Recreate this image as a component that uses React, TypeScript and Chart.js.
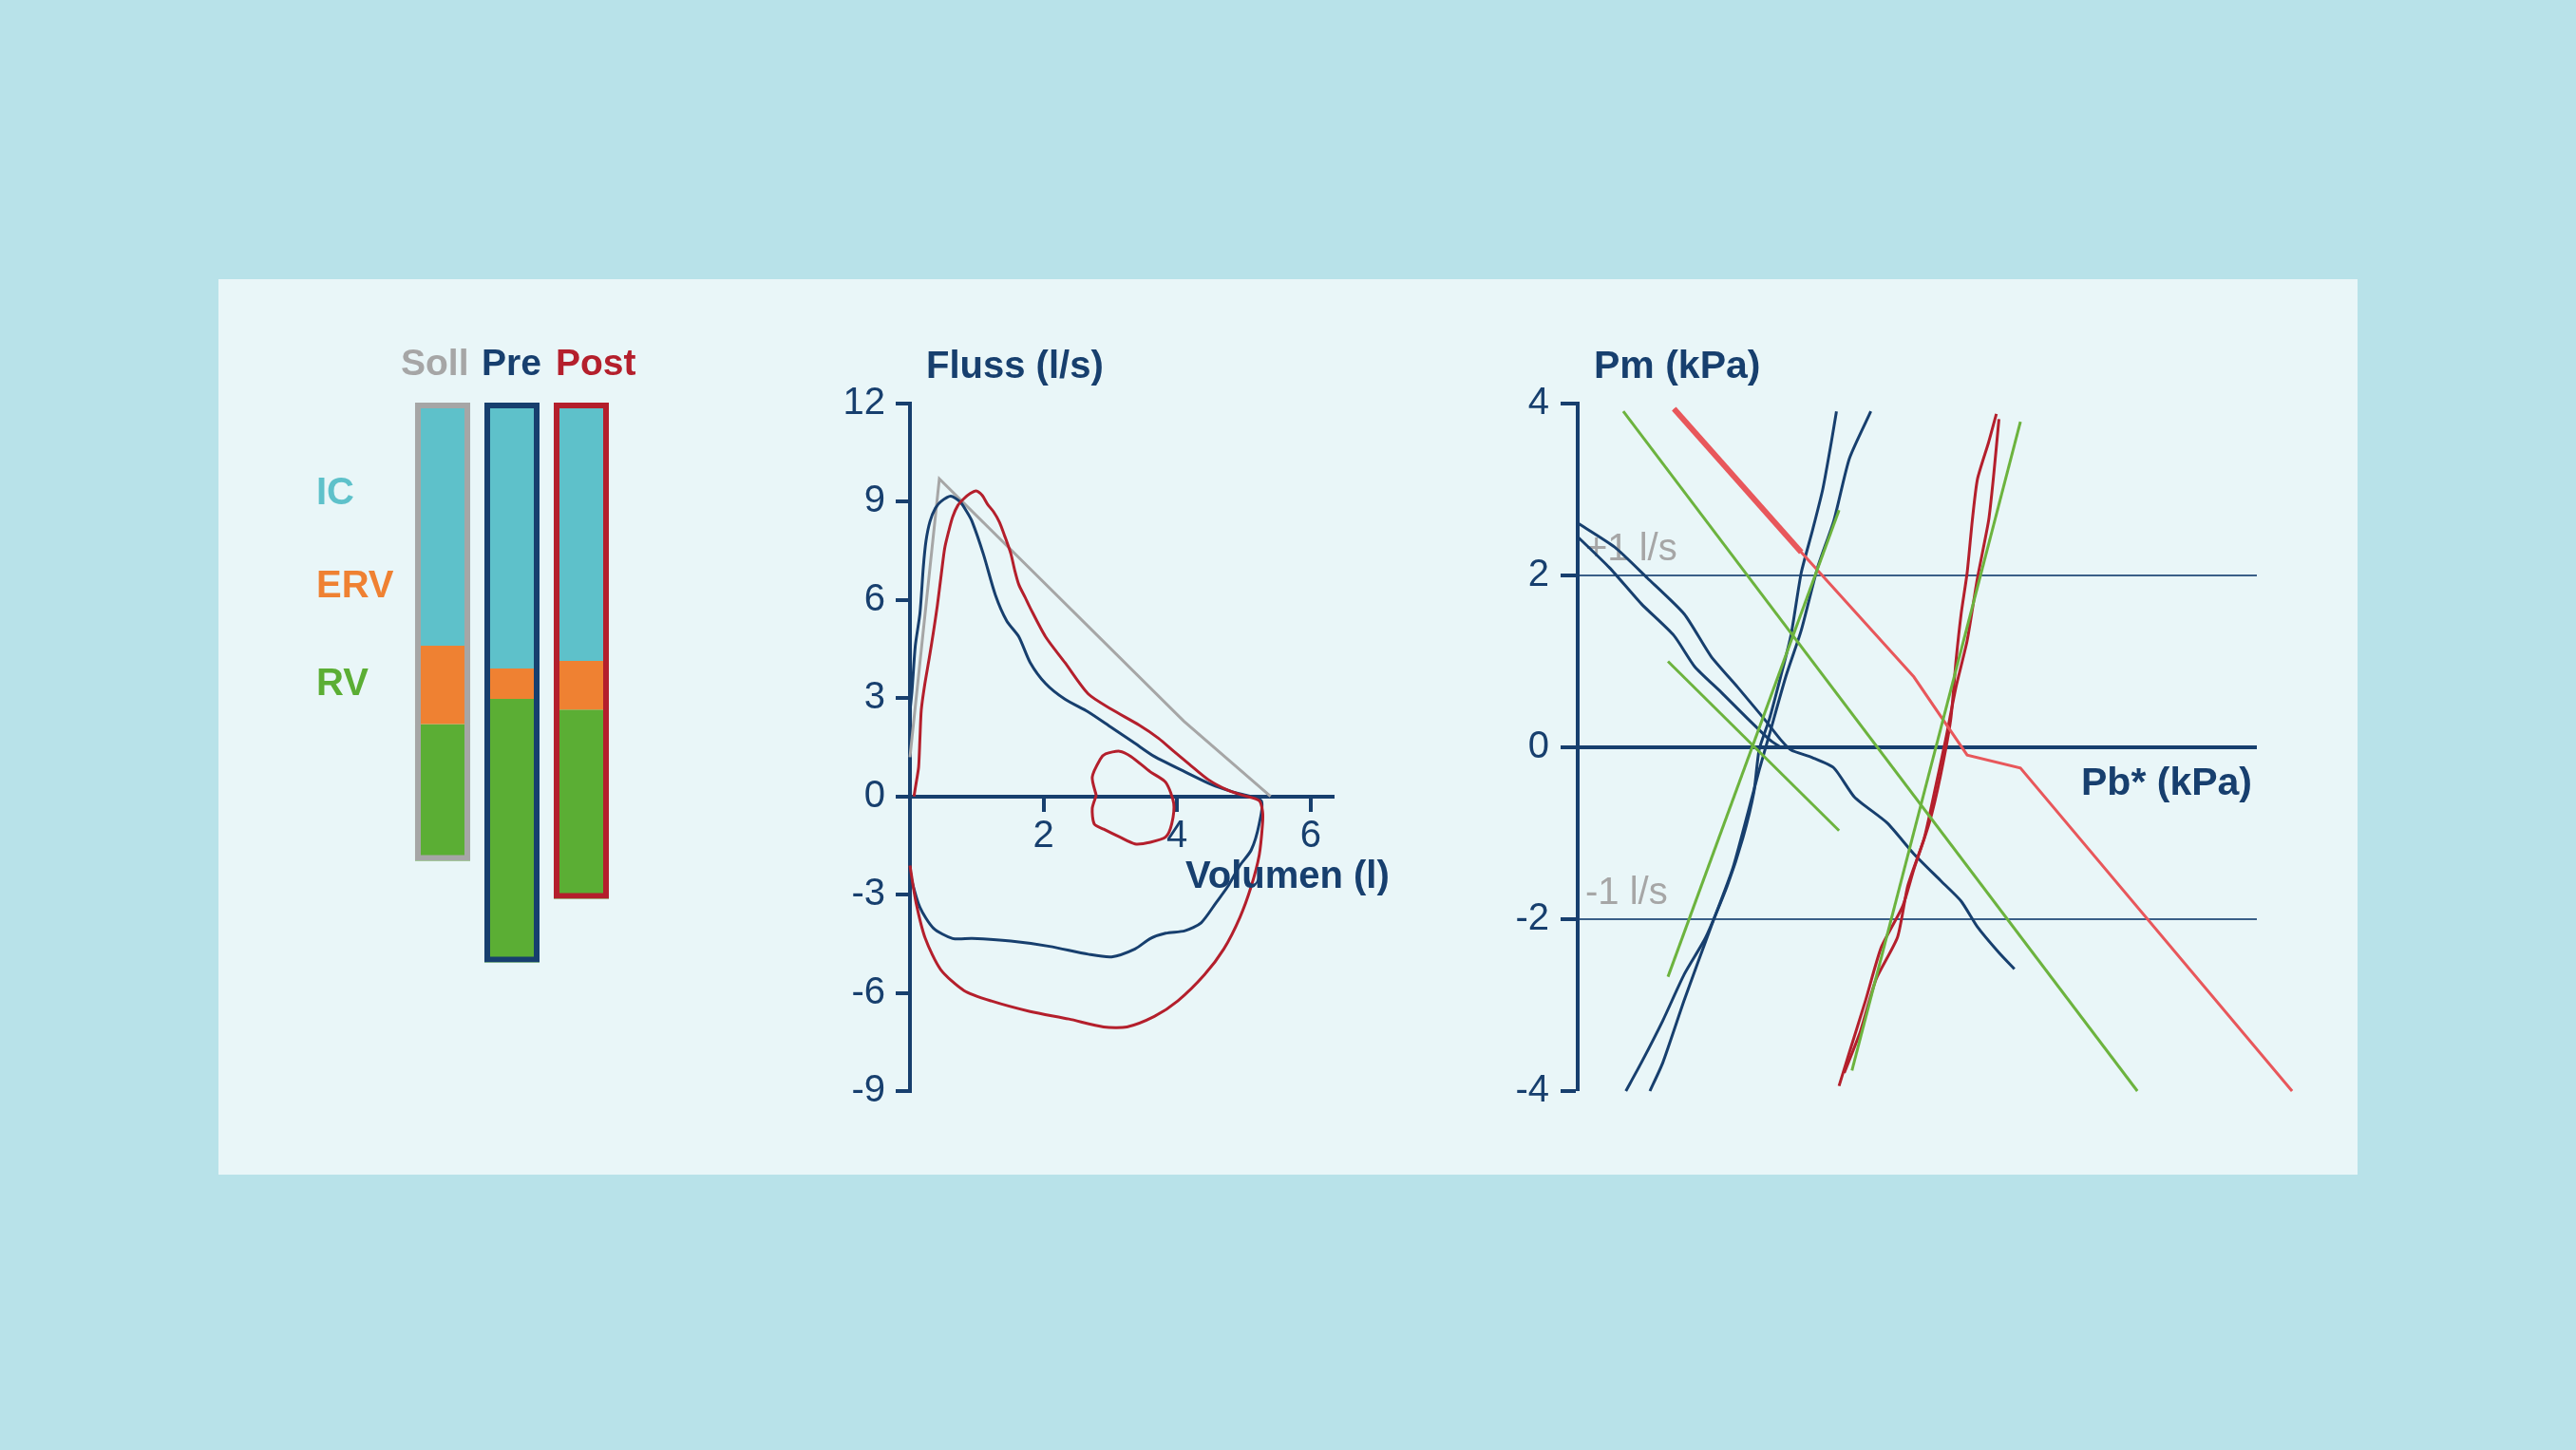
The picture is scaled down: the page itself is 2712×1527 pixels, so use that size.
import React, { useEffect, useRef } from 'react';
import { Chart, registerables } from 'chart.js';

Chart.register(...registerables);

const FONT = '"Liberation Sans", Arial, Helvetica, sans-serif';
const NAVY = '#173f6e';
const GRAY = '#a6a6a6';
const RED = '#b41f2c';
const SALMON = '#e8575b';
const CYAN = '#5ec1ca';
const ORANGE = '#ef8132';
const GREEN_BAR = '#5bae34';
const GREEN_LINE = '#6cb33e';

// ---------- Panel 1: lung volumes (l) ----------
const volumeGroups = ['Soll', 'Pre', 'Post'];
const volumeParts = ['IC', 'ERV', 'RV'];
const icVolume = [3.2, 3.5, 3.4];
const ervVolume = [1.03, 0.4, 0.64];
const rvVolume = [1.8, 3.47, 2.49];

// ---------- Panel 2: flow-volume loops (volume l, flow l/s) ----------
const flowTicks = [-9, -6, -3, 0, 3, 6, 9, 12];
const volumeTicks = [2, 4, 6];
const sollFlowVolume: [number, number][] = [[0, 1.2], [0.44, 9.7], [4.1, 2.3], [5.4, 0]];
const preFlowVolume: [number, number][] = [
  [0.0, 2.6], [0.03, 3.2], [0.08, 4.6], [0.15, 5.6], [0.2, 7.0], [0.24, 7.8], [0.3, 8.4], [0.38, 8.8],
  [0.46, 9.0], [0.61, 9.17], [0.75, 9.0], [0.85, 8.7], [0.93, 8.4], [1.1, 7.4], [1.28, 6.15],
  [1.45, 5.36], [1.63, 4.88], [1.8, 4.09], [2.03, 3.45], [2.32, 2.97], [2.67, 2.58], [3.02, 2.1],
  [3.37, 1.62], [3.66, 1.22], [4.12, 0.75], [4.53, 0.35], [4.88, 0.11], [5.26, -0.13],
  [5.23, -0.84], [5.11, -1.64], [4.94, -2.11], [4.76, -2.75], [4.59, -3.23], [4.36, -3.86],
  [4.12, -4.1], [3.83, -4.18], [3.6, -4.34], [3.37, -4.66], [3.02, -4.9], [2.67, -4.82],
  [2.09, -4.58], [1.51, -4.42], [0.93, -4.34], [0.64, -4.34], [0.35, -4.02], [0.15, -3.39],
  [0.03, -2.59], [0.0, -2.2],
];
const postFlowVolume: [number, number][] = [
  [0.06, 0], [0.1, 0.5], [0.13, 0.9], [0.15, 1.8], [0.17, 2.65], [0.22, 3.4], [0.29, 4.24],
  [0.35, 5.0], [0.41, 5.83], [0.47, 6.8], [0.52, 7.58], [0.58, 8.1], [0.64, 8.54], [0.72, 8.9],
  [0.81, 9.1], [0.9, 9.25], [0.99, 9.33], [1.08, 9.2], [1.16, 8.93], [1.25, 8.7], [1.34, 8.38],
  [1.42, 7.95], [1.51, 7.42], [1.57, 6.9], [1.63, 6.47], [1.72, 6.1], [1.8, 5.76], [2.03, 4.88],
  [2.32, 4.09], [2.67, 3.13], [3.02, 2.66], [3.43, 2.18], [3.72, 1.78], [3.95, 1.38], [4.18, 0.99],
  [4.47, 0.51], [4.76, 0.19], [4.99, 0.03], [5.23, -0.13], [5.28, -0.45], [5.28, -0.84],
  [5.23, -1.8], [5.11, -2.75], [4.94, -3.7], [4.7, -4.66], [4.41, -5.45], [4.01, -6.25],
  [3.66, -6.72], [3.25, -7.04], [2.9, -7.04], [2.38, -6.8], [1.8, -6.57], [1.22, -6.25],
  [0.81, -5.93], [0.46, -5.29], [0.23, -4.34], [0.09, -3.23], [0.0, -2.11],
];
const postTidalLoop: [number, number][] = [
  [2.79, 0.03], [2.73, 0.59], [2.85, 1.14], [2.93, 1.3], [3.14, 1.38], [3.31, 1.22], [3.6, 0.75],
  [3.83, 0.43], [3.95, -0.21], [3.92, -0.84], [3.83, -1.24], [3.6, -1.4], [3.37, -1.45],
  [3.14, -1.24], [2.9, -1.0], [2.76, -0.84], [2.73, -0.37], [2.79, 0.03],
];

// ---------- Panel 3: Pm vs Pb* (kPa) ----------
const pressureTicks = [-4, -2, 0, 2, 4];
const greenLineA: [number, number][] = [[0.53, 3.91], [6.51, -4.0]];
const greenLineB: [number, number][] = [[1.05, 1.0], [3.04, -0.97]];
const greenLineC: [number, number][] = [[1.05, -2.67], [3.04, 2.76]];
const greenLineD: [number, number][] = [[3.19, -3.76], [5.15, 3.79]];
const resistanceThin: [number, number][] = [[1.12, 3.94], [2.6, 2.27], [3.91, 0.82], [4.53, -0.09], [5.15, -0.24], [8.31, -4.0]];
const resistanceThick: [number, number][] = [[1.12, 3.94], [2.6, 2.27]];
const preDescA: [number, number][] = [
  [0, 2.61], [0.43, 2.33], [0.81, 1.97], [1.24, 1.55], [1.55, 1.06], [1.86, 0.7], [2.17, 0.33],
  [2.36, 0.09], [2.48, -0.03], [2.73, -0.12], [2.98, -0.24], [3.22, -0.58], [3.6, -0.88],
  [3.91, -1.24], [4.22, -1.55], [4.46, -1.79], [4.65, -2.09], [4.9, -2.39], [5.08, -2.58],
];
const preDescB: [number, number][] = [
  [0, 2.45], [0.37, 2.09], [0.74, 1.67], [1.12, 1.3], [1.36, 0.94], [1.67, 0.64], [1.98, 0.33],
  [2.23, 0.09], [2.36, 0.0],
];
const preSteepA: [number, number][] = [
  [0.56, -4.0], [0.74, -3.67], [0.99, -3.18], [1.24, -2.64], [1.49, -2.21], [1.74, -1.61],
  [1.92, -1.06], [2.05, -0.52], [2.11, -0.03], [2.23, 0.33], [2.36, 0.82], [2.48, 1.3],
  [2.6, 2.03], [2.73, 2.52], [2.85, 3.0], [2.95, 3.55], [3.01, 3.91],
];
const preSteepB: [number, number][] = [
  [0.84, -4.0], [0.99, -3.67], [1.24, -2.94], [1.55, -2.09], [1.8, -1.42], [1.98, -0.76],
  [2.11, -0.27], [2.23, 0.15], [2.42, 0.82], [2.6, 1.36], [2.79, 2.09], [2.98, 2.64],
  [3.16, 3.36], [3.41, 3.91],
];
const postSteepA: [number, number][] = [
  [3.04, -3.94], [3.16, -3.55], [3.35, -2.94], [3.53, -2.33], [3.78, -1.85], [3.91, -1.42],
  [4.09, -0.88], [4.22, -0.33], [4.34, 0.33], [4.4, 1.0], [4.46, 1.55], [4.53, 2.03],
  [4.59, 2.64], [4.65, 3.12], [4.78, 3.55], [4.87, 3.88],
];
const postSteepB: [number, number][] = [
  [3.1, -3.79], [3.29, -3.3], [3.47, -2.7], [3.72, -2.21], [3.84, -1.61], [4.03, -1.06],
  [4.15, -0.52], [4.28, 0.09], [4.4, 0.7], [4.53, 1.24], [4.65, 1.97], [4.78, 2.64],
  [4.84, 3.18], [4.9, 3.82],
];

const toXY = (pts: [number, number][]) => pts.map(([x, y]) => ({ x, y }));

type TextItem = {
  text: string; x: number; y: number; color: string; size: number;
  bold?: boolean; align?: CanvasTextAlign; behind?: boolean;
};

function textPlugin(id: string, items: TextItem[]) {
  const draw = (chart: any, behind: boolean) => {
    const ctx = chart.ctx as CanvasRenderingContext2D;
    ctx.save();
    for (const t of items) {
      if (!!t.behind !== behind) continue;
      ctx.font = `${t.bold ? 'bold ' : ''}${t.size}px ${FONT}`;
      ctx.fillStyle = t.color;
      ctx.textAlign = t.align || 'left';
      ctx.textBaseline = 'middle';
      ctx.fillText(t.text, t.x, t.y);
    }
    ctx.restore();
  };
  return {
    id,
    beforeDatasetsDraw: (c: any) => draw(c, true),
    afterDraw: (c: any) => draw(c, false),
  };
}

const tickFont = { family: FONT, size: 40 };

function lineDs(pts: [number, number][], color: string, width = 3, tension = 0.25) {
  return {
    data: toXY(pts), borderColor: color, backgroundColor: color, borderWidth: width,
    showLine: true, pointRadius: 0, tension, fill: false, clip: false as any,
  };
}

function VolumeBars() {
  const ref = useRef<HTMLCanvasElement>(null);
  useEffect(() => {
    const totals = volumeGroups.map((_, i) => icVolume[i] + ervVolume[i] + rvVolume[i]);
    const partColors = [CYAN, ORANGE, GREEN_BAR];
    const parts = [icVolume, ervVolume, rvVolume];
    const chart = new Chart(ref.current!, {
      type: 'bar',
      data: {
        labels: volumeGroups,
        datasets: [
          {
            label: 'frame', data: totals, stack: 'frame', backgroundColor: 'rgba(0,0,0,0)',
            borderColor: [GRAY, NAVY, RED], borderWidth: 6, borderSkipped: false, order: 0,
          } as any,
          ...volumeParts.map((name, k) => ({
            label: name, data: parts[k], backgroundColor: partColors[k], stack: 'v', order: k + 1, borderWidth: 0,
          })),
        ],
      },
      options: {
        responsive: false, animation: false, events: [],
        layout: { padding: { left: 129.5, right: 71.5, top: 94, bottom: 46 } },
        plugins: { legend: { display: false }, tooltip: { enabled: false } },
        datasets: { bar: { categoryPercentage: 1, barPercentage: 0.795, grouped: false } as any },
        scales: {
          x: { display: false, stacked: true },
          y: { display: false, stacked: true, reverse: true, min: 0, max: 8 },
        } as any,
      },
      plugins: [textPlugin('volText', [
        { text: 'Soll', x: 122, y: 54, color: GRAY, size: 39, bold: true },
        { text: 'Pre', x: 207, y: 54, color: NAVY, size: 39, bold: true },
        { text: 'Post', x: 285, y: 54, color: RED, size: 39, bold: true },
        { text: volumeParts[0], x: 33, y: 190, color: CYAN, size: 40, bold: true },
        { text: volumeParts[1], x: 33, y: 288, color: ORANGE, size: 40, bold: true },
        { text: volumeParts[2], x: 33, y: 391, color: GREEN_BAR, size: 40, bold: true },
      ])],
    });
    return () => chart.destroy();
  }, []);
  return <canvas ref={ref} width={420} height={780} />;
}

function FlowVolume() {
  const ref = useRef<HTMLCanvasElement>(null);
  useEffect(() => {
    const chart = new Chart(ref.current!, {
      type: 'scatter',
      data: {
        datasets: [
          lineDs(postTidalLoop, RED),
          lineDs(postFlowVolume, RED),
          lineDs(preFlowVolume, NAVY),
          lineDs(sollFlowVolume, GRAY, 3, 0),
        ] as any,
      },
      options: {
        responsive: false, animation: false, events: [],
        layout: { padding: { left: 0, right: 97, top: 85, bottom: 51 } },
        plugins: { legend: { display: false }, tooltip: { enabled: false } },
        scales: {
          x: {
            type: 'linear', min: 0, max: 6.33, position: { y: 0 } as any,
            afterBuildTicks: (s: any) => { s.ticks = volumeTicks.map((v) => ({ value: v })); },
            ticks: { font: tickFont, color: NAVY, padding: 4 },
            grid: { drawOnChartArea: false, color: NAVY, lineWidth: 4, tickLength: 14 },
            border: { color: NAVY, width: 4 },
          },
          y: {
            type: 'linear', min: -9, max: 12,
            afterFit: (s: any) => { s.width = 98; },
            afterBuildTicks: (s: any) => { s.ticks = flowTicks.map((v) => ({ value: v })); },
            ticks: { font: tickFont, color: NAVY, padding: 11 },
            grid: { drawOnChartArea: false, color: NAVY, lineWidth: 4, tickLength: 15 },
            border: { color: NAVY, width: 4 },
          },
        } as any,
      },
      plugins: [textPlugin('fvText', [
        { text: 'Fluss (l/s)', x: 115, y: 47, color: NAVY, size: 40, bold: true },
        { text: 'Volumen (l)', x: 388, y: 584, color: NAVY, size: 40, bold: true },
      ])],
    });
    return () => chart.destroy();
  }, []);
  return <canvas ref={ref} width={640} height={860} />;
}

function Pressure() {
  const ref = useRef<HTMLCanvasElement>(null);
  useEffect(() => {
    const chart = new Chart(ref.current!, {
      type: 'scatter',
      data: {
        datasets: [
          lineDs(greenLineA, GREEN_LINE, 3, 0),
          lineDs(greenLineB, GREEN_LINE, 3, 0),
          lineDs(greenLineC, GREEN_LINE, 3, 0),
          lineDs(greenLineD, GREEN_LINE, 3, 0),
          lineDs(resistanceThick, SALMON, 6, 0),
          lineDs(resistanceThin, SALMON, 3, 0),
          lineDs(postSteepA, RED, 3, 0.2),
          lineDs(postSteepB, RED, 3, 0.2),
          lineDs(preDescA, NAVY, 3, 0.2),
          lineDs(preDescB, NAVY, 3, 0.2),
          lineDs(preSteepA, NAVY, 3, 0.2),
          lineDs(preSteepB, NAVY, 3, 0.2),
        ] as any,
      },
      options: {
        responsive: false, animation: false, events: [],
        layout: { padding: { left: 0, right: 64, top: 85, bottom: 51 } },
        plugins: { legend: { display: false }, tooltip: { enabled: false } },
        scales: {
          x: { type: 'linear', display: false, min: 0, max: 7.9 },
          y: {
            type: 'linear', min: -4, max: 4,
            afterFit: (s: any) => { s.width = 101; },
            afterBuildTicks: (s: any) => { s.ticks = pressureTicks.map((v) => ({ value: v })); },
            ticks: { font: tickFont, color: NAVY, padding: 12 },
            grid: {
              drawOnChartArea: true,
              color: (c: any) => (c.tick && c.tick.value === 0 ? NAVY : '#3a5f88'),
              lineWidth: (c: any) => {
                const v = c.tick ? c.tick.value : 99;
                return v === 0 ? 4 : Math.abs(v) === 2 ? 2 : 0;
              },
              tickColor: NAVY, tickWidth: 4, tickLength: 18,
            },
            border: { color: NAVY, width: 4 },
          },
        } as any,
      },
      plugins: [textPlugin('pText', [
        { text: 'Pm (kPa)', x: 118, y: 47, color: NAVY, size: 41, bold: true },
        { text: 'Pb* (kPa)', x: 811, y: 486, color: NAVY, size: 41, bold: true, align: 'right' },
        { text: '+1 l/s', x: 109, y: 239, color: GRAY, size: 40, behind: true },
        { text: '-1 l/s', x: 109, y: 601, color: GRAY, size: 40, behind: true },
      ])],
    });
    return () => chart.destroy();
  }, []);
  return <canvas ref={ref} width={880} height={860} />;
}

export default function App() {
  const abs = (left: number, top: number): React.CSSProperties => ({ position: 'absolute', left, top });
  return (
    <div style={{ position: 'fixed', left: 0, top: 0, width: 2712, height: 1527, background: '#b8e2e9', overflow: 'hidden' }}>
      <div style={{ position: 'absolute', left: 230, top: 294, width: 2252, height: 943, background: '#e9f6f8' }} />
      <div style={abs(300, 330)}><VolumeBars /></div>
      <div style={abs(860, 340)}><FlowVolume /></div>
      <div style={abs(1560, 340)}><Pressure /></div>
    </div>
  );
}
